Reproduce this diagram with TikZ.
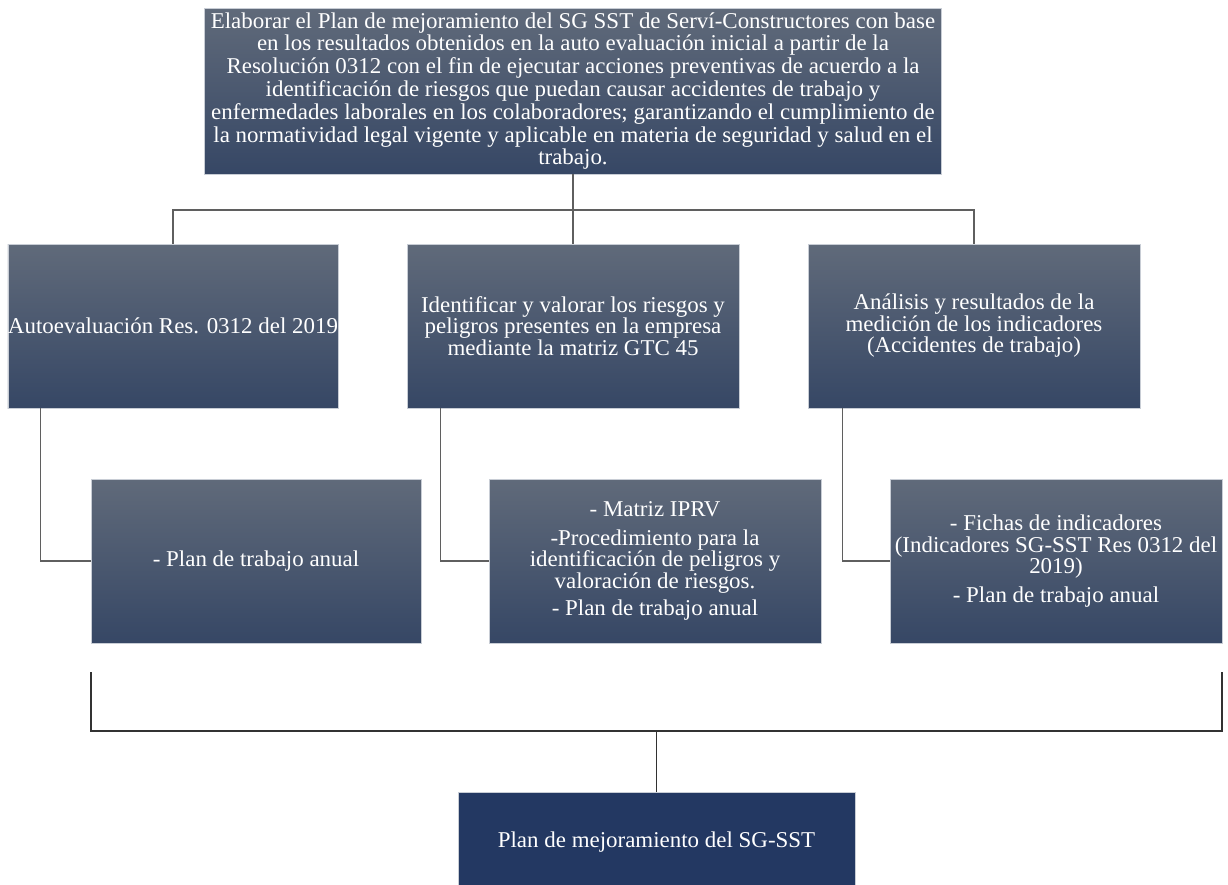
\documentclass[tikz,border=0pt]{standalone}
\usepackage{fontspec}
\setmainfont{Liberation Serif}[FakeStretch=1.015]
\definecolor{boxtop}{RGB}{96,106,122}
\definecolor{boxbot}{RGB}{54,71,101}
\definecolor{boxedge}{RGB}{200,205,213}
\definecolor{finalblue}{RGB}{35,56,98}
\definecolor{linkgray}{RGB}{95,95,95}
\definecolor{bracketgray}{RGB}{50,50,50}
\tikzset{
  gradbox/.style={rectangle, top color=boxtop, bottom color=boxbot, draw=boxedge, line width=0.8pt,
    inner sep=0pt, align=center, text=white, font=\fontsize{22.6}{21.5}\selectfont},
  topbox/.style={gradbox, minimum width=737pt, minimum height=166pt, font=\fontsize{22.6}{22.8}\selectfont},
  rowbox/.style={gradbox, minimum width=332pt, minimum height=164pt},
  finalbox/.style={rectangle, fill=finalblue, draw=boxedge, line width=0.8pt, inner sep=0pt,
    align=center, text=white, minimum width=397pt, minimum height=100pt, font=\fontsize{22.6}{21.5}\selectfont},
  link/.style={draw=linkgray, line width=1.4pt},
  bracket/.style={draw=bracketgray, line width=1.4pt}
}
\begin{document}
\begin{tikzpicture}[x=1pt,y=-1pt]
\useasboundingbox (0,0) rectangle (1228,884);
\fill[white] (0,0) rectangle (1228,884);

\node[topbox] (top) at (573,91) {Elaborar el Plan de mejoramiento del SG SST de Serví-Constructores con base\\
en los resultados obtenidos en la auto evaluación inicial a partir de la\\
Resolución 0312 con el fin de ejecutar acciones preventivas de acuerdo a la\\
identificación de riesgos que puedan causar accidentes de trabajo y\\
enfermedades laborales en los colaboradores; garantizando el cumplimiento de\\
la normatividad legal vigente y aplicable en materia de seguridad y salud en el\\
trabajo.};

\node[rowbox, minimum width=330pt] (ra) at (173,326) {Autoevaluación Res. 0312 del 2019};
\node[rowbox] (rb) at (573,326) {Identificar y valorar los riesgos y\\ peligros presentes en la empresa\\ mediante la matriz GTC 45};
\node[rowbox] (rc) at (974,326) {Análisis y resultados de la\\ medición de los indicadores\\ (Accidentes de trabajo)};

\node[rowbox, minimum width=330pt] (sa) at (256,561) {- Plan de trabajo anual};
\node[rowbox] (sb) at (655,561) {- Matriz IPRV\\[7pt] -Procedimiento para la\\ identificación de peligros y\\ valoración de riesgos.\\[6pt] - Plan de trabajo anual};
\node[rowbox] (sc) at (1056,561) {- Fichas de indicadores\\ (Indicadores SG-SST Res 0312 del\\ 2019)\\[7pt] - Plan de trabajo anual};

\node[finalbox] (fin) at (656.5,842) {Plan de mejoramiento del SG-SST};

% top connectors
\coordinate (hub) at (573,210);
\draw[link] (top.south) -- (hub);
\draw[link] (ra.north) |- (hub) -| (rc.north);
\draw[link] (hub) -- (rb.north);

% row connectors
\draw[link] ([xshift=33pt]ra.south west) |- (sa.west);
\draw[link] ([xshift=34pt]rb.south west) |- (sb.west);
\draw[link] ([xshift=35pt]rc.south west) |- (sc.west);

% bottom bracket
\coordinate (bl) at (91,672);
\coordinate (br) at (1222,672);
\coordinate (bj) at (656.5,731);
\draw[bracket] (bl) |- (bj) -| (br);
\draw[bracket] (bj) -- (fin.north);
\end{tikzpicture}
\end{document}
